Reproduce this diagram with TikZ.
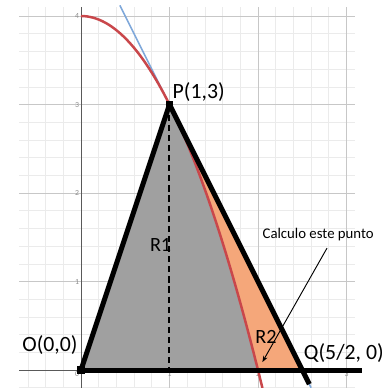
\documentclass[tikz,border=0pt]{standalone}
\usepackage{fontspec}
\setmainfont{Carlito}
\usetikzlibrary{arrows.meta}

\definecolor{regiongray}{HTML}{A0A0A0}
\definecolor{regionorange}{HTML}{F5A77A}
\definecolor{curvered}{HTML}{C9474B}
\definecolor{lineblue}{HTML}{7FA8DA}

\tikzset{
  minorgrid/.style={draw=black!8, line width=0.4pt},
  majorgrid/.style={draw=black!22, line width=0.5pt},
  axisline/.style={draw=black!65, line width=0.6pt},
  ticklabel/.style={text=black!45, font=\fontsize{5}{6}\selectfont, inner sep=1pt},
  ptlabel/.style={font=\fontsize{14}{16}\selectfont, inner sep=0pt},
  regionlabel/.style={font=\fontsize{13}{15}\selectfont, inner sep=0pt},
  notelabel/.style={font=\fontsize{9.5}{11}\selectfont, inner sep=1pt},
  thickedge/.style={line width=3.2pt, line join=round},
  ptmark/.style={fill=black, inner sep=0pt, minimum size=5pt},
}

\begin{document}
\begin{tikzpicture}[x=2cm, y=2cm]
    \useasboundingbox (-0.915,-0.203) rectangle (3.503,4.181);
    % grid and axes
    \draw [minorgrid, step=0.2] (-0.7,-0.2) grid (3.1,4.1);
    \draw [majorgrid, step=1] (-0.7,-0.2) grid (3.1,4.1);
    \draw [axisline] (-0.7,0) -- (3.1,0);
    \draw [axisline] (0,-0.2) -- (0,4.1);
    \foreach \k in {1,2,3,4}
        \node [ticklabel, anchor=east] (ty\k) at (0,\k) {\k};
    \foreach \k in {1,2,3}
        \node [ticklabel, anchor=north] (tx\k) at (\k,0) {\k};
    \node [ticklabel, anchor=north east] (t0) at (0,0) {0};

    % points
    \coordinate (O) at (0,0);
    \coordinate (P) at (1,3);
    \coordinate (Q) at (2.5,0);
    \coordinate (F) at (1,0);
    \coordinate (C) at (2,0);
    \coordinate (B) at (2.58,-0.16);
    \coordinate (E) at (3.18,0);
    \coordinate (T1) at (0.44,4.12);
    \coordinate (T2) at (2.6,-0.2);
    \coordinate (root) at (2.05,0.09);

    % regions
    \fill [regiongray] (O) -- (P) -- plot [domain=1:2, samples=40] (\x,{4-\x*\x}) -- cycle;
    \fill [regionorange] (P) -- plot [domain=1:2, samples=40] (\x,{4-\x*\x}) -- (Q) -- cycle;

    % curves
    \draw [lineblue, line width=1pt] (T1) -- (T2);
    \draw [curvered, line width=1.6pt] plot [domain=0:2.05, samples=60] (\x,{4-\x*\x});
    \draw [black, line width=1.3pt, dash pattern=on 4pt off 2.5pt] (P) -- (F);
    \draw [thickedge] (O) -- (P) -- (B);
    \draw [thickedge] (O) -- (E);
    \node [ptmark] (Omark) at (O) {};
    \node [ptmark] (Pmark) at (P) {};

    % labels
    \node [ptlabel] (Olabel) at (-0.35,0.28) {O(0,0)};
    \node [ptlabel] (Plabel) at (1.33,3.14) {P(1,3)};
    \node [ptlabel] (Qlabel) at (2.97,0.19) {Q(5/2, 0)};
    \node [regionlabel] (R1) at (0.9,1.41) {R1};
    \node [regionlabel] (R2) at (2.09,0.37) {R2};
    \node [notelabel] (note) at (2.68,1.53) {Calculo este punto};
    \draw [-{Stealth[length=4pt, width=3pt]}, line width=0.6pt]
        ([xshift=2mm, yshift=-1.2mm]note.south) -- (root);
\end{tikzpicture}
\end{document}
